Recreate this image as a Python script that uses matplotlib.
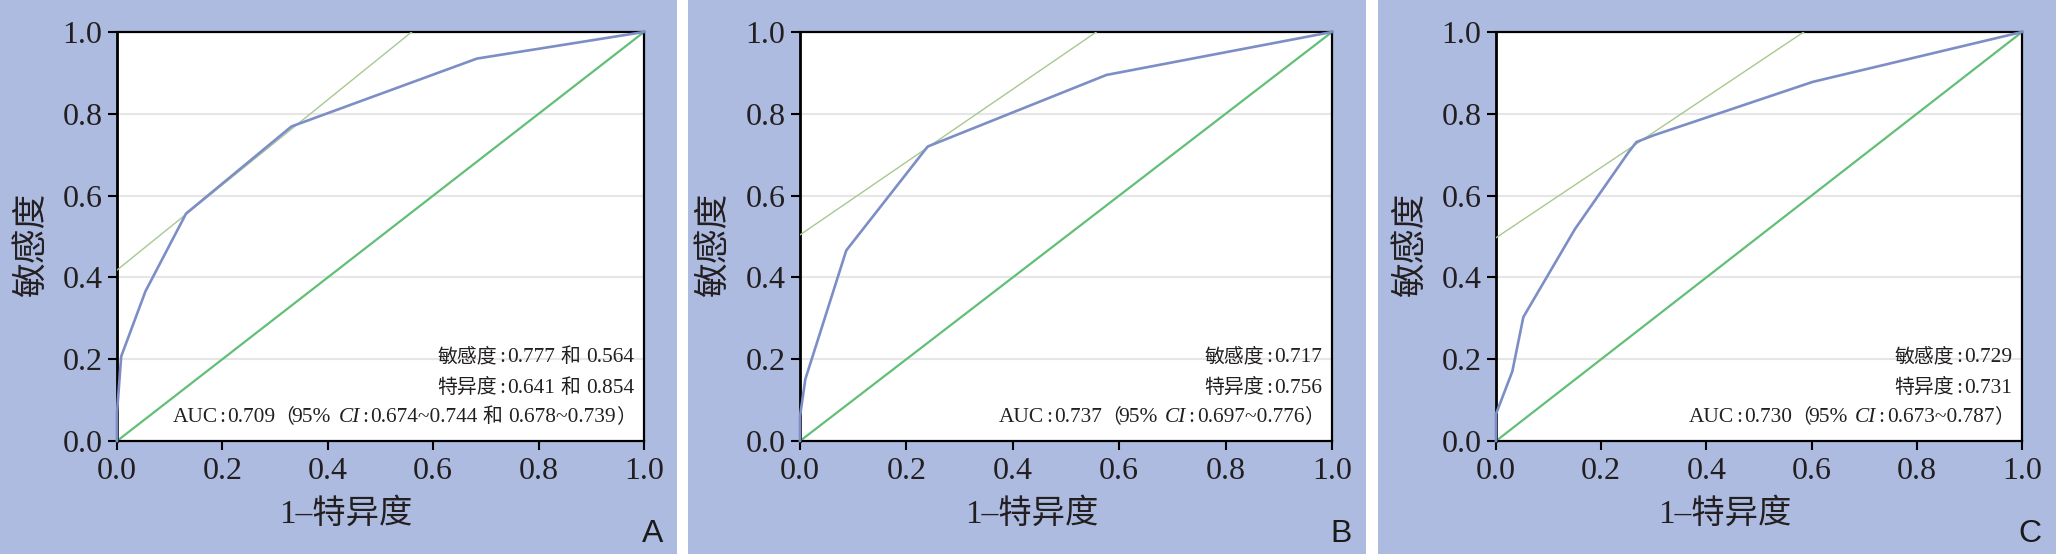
import matplotlib
matplotlib.use("Agg")
import matplotlib.pyplot as plt
from matplotlib import transforms
from matplotlib.patches import Rectangle

# ROC curves: 1-specificity (x) vs sensitivity (y)
fpr_a = [0.0, 0.0, 0.008, 0.054, 0.131, 0.331, 0.683, 1.0]
tpr_a = [0.0, 0.07, 0.207, 0.366, 0.556, 0.769, 0.935, 1.0]
fpr_b = [0.0, 0.0, 0.010, 0.087, 0.240, 0.576, 1.0]
tpr_b = [0.0, 0.06, 0.151, 0.466, 0.720, 0.895, 1.0]
fpr_c = [0.0, 0.0, 0.031, 0.052, 0.150, 0.252, 0.267, 0.301, 0.602, 1.0]
tpr_c = [0.0, 0.066, 0.170, 0.303, 0.518, 0.706, 0.731, 0.748, 0.878, 1.0]

# tangent lines (end points)
tan_a_x, tan_a_y = [0.0, 0.559], [0.418, 1.0]
tan_b_x, tan_b_y = [0.0, 0.557], [0.504, 1.0]
tan_c_x, tan_c_y = [0.0, 0.585], [0.497, 1.0]

# reference diagonal
ref_x, ref_y = [0.0, 1.0], [0.0, 1.0]

ticks = [0.0, 0.2, 0.4, 0.6, 0.8, 1.0]
tick_labels = ["0.0", "0.2", "0.4", "0.6", "0.8", "1.0"]
grid_y = [0.2, 0.4, 0.6, 0.8]

sens_a, spec_a, auc_a, ci_a = ["0.777", "0.564"], ["0.641", "0.854"], "0.709", ["0.674~0.744", "0.678~0.739"]
sens_b, spec_b, auc_b, ci_b = ["0.717"], ["0.756"], "0.737", ["0.697~0.776"]
sens_c, spec_c, auc_c, ci_c = ["0.729"], ["0.731"], "0.730", ["0.673~0.787"]

panel_letters = ["A", "B", "C"]
xlabel = "1–特异度"
ylabel = "敏感度"

BG = "#adbbe0"
BLUE = "#7d8ec6"
GREEN = "#62bf78"
TANGENT = "#a8c892"
TXT = "#231f20"
MIX = ["Liberation Serif", "Noto Sans CJK SC"]

W, H = 2056, 554
fig = plt.figure(figsize=(W / 100, H / 100), dpi=100)
fig.patch.set_facecolor("white")

# panel backgrounds (pixels)
panels_px = [(0, 677), (688, 1366), (1378, 2056)]
for x0, x1 in panels_px:
    fig.add_artist(Rectangle((x0 / W, 0), (x1 - x0) / W, 1, transform=fig.transFigure,
                             facecolor=BG, edgecolor="none", zorder=0))

axes_px = [(117, 644), (800, 1332), (1496, 2022)]
top_px, bot_px = 32, 441

renderer = fig.canvas.get_renderer()


def styled(kind):
    if kind == "cjk":
        return dict(family=["Noto Sans CJK SC"], fontsize=14.3)
    if kind == "it":
        return dict(family=["Liberation Serif"], fontsize=15.4, style="italic")
    return dict(family=["Liberation Serif"], fontsize=15.4)


def draw_line(ax, pieces, yfrac, right_px=10):
    # draw pieces right to left, baseline aligned; gap = space after the piece
    dx = right_px
    for text, kind, gap in reversed(pieces):
        dx += gap
        tr = transforms.offset_copy(ax.transAxes, fig=fig, x=-dx, y=0, units="dots")
        t = ax.text(1.0, yfrac, text, transform=tr, ha="right", va="baseline",
                    color=TXT, **styled(kind))
        bb = t.get_window_extent(renderer)
        dx += bb.width


def joined(values):
    # values separated by 和
    out = []
    for k, v in enumerate(values):
        if k > 0:
            out.append(("和", "cjk", 6))
        last = k == len(values) - 1
        out.append((v, "lat", 0 if last else 5))
    return out


def build_lines(sens, spec, auc, ci):
    l1 = [("敏感度", "cjk", 2), (":", "lat", 2)] + joined(sens)
    l2 = [("特异度", "cjk", 2), (":", "lat", 2)] + joined(spec)
    l3 = ([("AUC", "lat", 2), (":", "lat", 2), (auc, "lat", -1), ("（", "cjk", -3),
           ("95%", "lat", 8), ("CI", "it", 2), (":", "lat", 2)]
          + joined(ci) + [("）", "cjk", -2)])
    return [l1, l2, l3]


curves = [(fpr_a, tpr_a, tan_a_x, tan_a_y, sens_a, spec_a, auc_a, ci_a),
          (fpr_b, tpr_b, tan_b_x, tan_b_y, sens_b, spec_b, auc_b, ci_b),
          (fpr_c, tpr_c, tan_c_x, tan_c_y, sens_c, spec_c, auc_c, ci_c)]

for i, (fx, ty, tx, tyy, sens, spec, auc, ci) in enumerate(curves):
    l, r = axes_px[i]
    ax = fig.add_axes([l / W, (H - bot_px) / H, (r - l) / W, (bot_px - top_px) / H])
    ax.set_facecolor("white")
    for g in grid_y:
        ax.axhline(g, color="#e6e6e6", lw=1.5, zorder=1)
    ax.plot(ref_x, ref_y, color=GREEN, lw=1.6, zorder=2, clip_on=False)
    ax.plot(tx, tyy, color=TANGENT, lw=1.0, zorder=3)
    ax.plot(fx, ty, color=BLUE, lw=1.9, zorder=4, clip_on=False)
    ax.set_xlim(0, 1)
    ax.set_ylim(0, 1)
    ax.set_xticks(ticks)
    ax.set_xticklabels(tick_labels)
    ax.set_yticks(ticks)
    ax.set_yticklabels(tick_labels)
    for lab in ax.get_xticklabels() + ax.get_yticklabels():
        lab.set_fontfamily("Liberation Serif")
        lab.set_fontsize(23)
        lab.set_color(TXT)
    ax.tick_params(direction="out", length=6.5, width=1.5, color="black")
    ax.tick_params(axis="x", pad=5.0)
    ax.tick_params(axis="y", pad=4.0)
    for sp in ax.spines.values():
        sp.set_linewidth(1.6)
        sp.set_color("black")
    ax.spines["left"].set_linewidth(2.0)

    ax.text(0.435, -0.178, xlabel, transform=ax.transAxes, ha="center", va="center",
            family=MIX, fontsize=24, color=TXT)
    ax.text(-0.160, 0.48, ylabel, transform=ax.transAxes, ha="center", va="center",
            rotation=90, family=MIX, fontsize=25, color=TXT)

    lines = build_lines(sens, spec, auc, ci)
    for line, yb in zip(lines, [0.193, 0.117, 0.046]):
        draw_line(ax, line, yb)

    x1 = panels_px[i][1] - 14
    fig.text(x1 / W, (H - 542) / H, panel_letters[i], ha="right", va="baseline",
             family=["Liberation Sans"], fontsize=23, color="#1a1a1a")

fig.savefig("out.png", dpi=100)
